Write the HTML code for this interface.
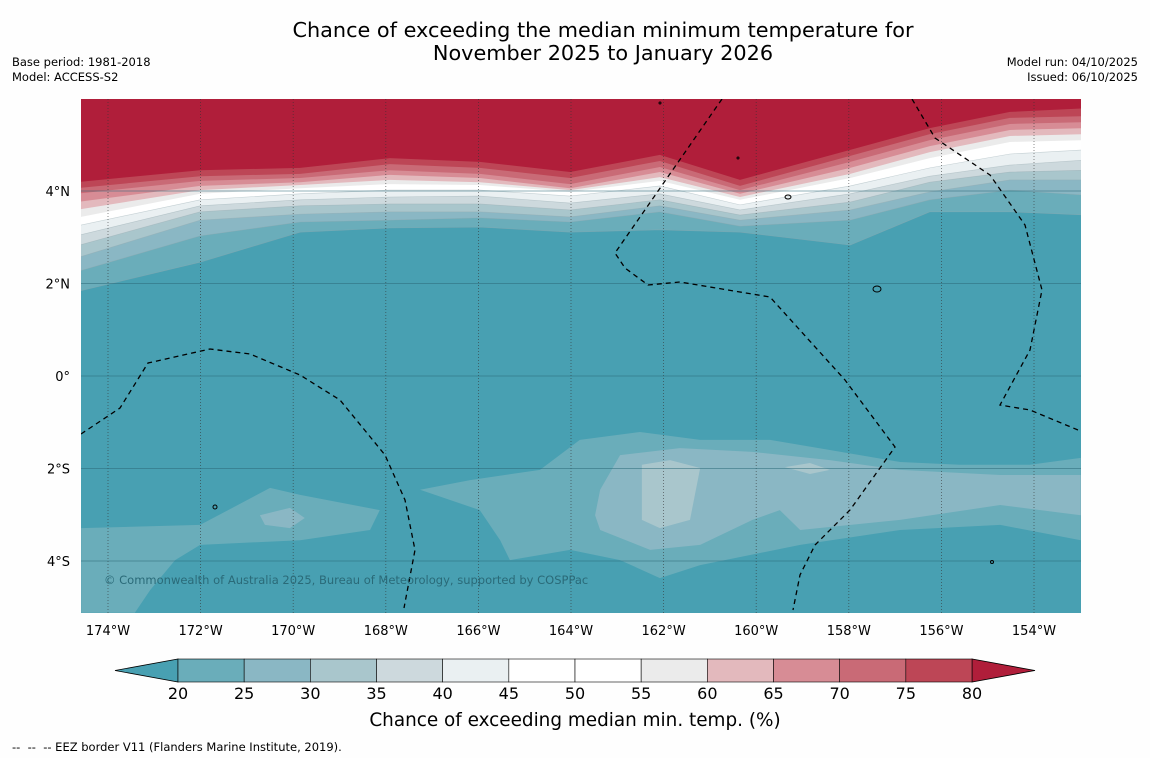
<!DOCTYPE html>
<html><head><meta charset="utf-8"><style>
body{margin:0;background:#fff;font-family:"DejaVu Sans",sans-serif;}
#wrap{position:relative;width:1150px;height:758px;overflow:hidden;background:#fefefe}
.t{position:absolute;white-space:nowrap;color:#000}
</style></head><body>
<div id="wrap">
<div class="t" style="left:0;width:1206px;text-align:center;top:19px;font-size:20.8px;line-height:23px">Chance of exceeding the median minimum temperature for<br>November 2025 to January 2026</div>
<div class="t" style="left:12px;top:55px;font-size:11.5px;line-height:15px">Base period: 1981-2018<br>Model: ACCESS-S2</div>
<div class="t" style="right:12px;top:55px;font-size:11.5px;line-height:15px;text-align:right">Model run: 04/10/2025<br>Issued: 06/10/2025</div>
<svg id="map" width="1150" height="758" style="position:absolute;left:0;top:0"></svg>
<div class="t" style="left:12px;top:740px;font-size:11.5px">--&nbsp; --&nbsp; -- EEZ border V11 (Flanders Marine Institute, 2019).</div>
</div>
<script>
const lons=[-174.58,-172.01,-169.85,-167.91,-165.97,-164.02,-162.08,-160.35,-157.97,-156.25,-154.52,-152.99];
const levels=[20,25,30,35,40,45,55,60,65,70,75,80];
const contourLats=[
[1.82,2.46,3.11,3.20,3.22,3.11,3.16,3.11,2.83,3.55,3.55,3.48],
[2.25,3.03,3.33,3.37,3.42,3.33,3.55,3.24,3.37,3.81,4.02,3.91],
[2.55,3.37,3.50,3.55,3.55,3.44,3.68,3.37,3.59,3.98,4.24,4.24],
[2.81,3.55,3.68,3.72,3.72,3.59,3.81,3.48,3.76,4.19,4.41,4.45],
[3.03,3.68,3.81,3.87,3.89,3.74,3.94,3.59,3.94,4.32,4.56,4.67],
[3.24,3.81,3.94,4.02,4.02,3.89,4.11,3.70,4.11,4.50,4.80,4.89],
[3.42,3.94,4.06,4.15,4.13,3.98,4.22,3.81,4.28,4.71,5.06,5.10],
[3.59,4.02,4.13,4.24,4.19,4.02,4.30,3.87,4.37,4.84,5.19,5.23],
[3.76,4.11,4.19,4.35,4.28,4.06,4.41,3.94,4.50,4.97,5.32,5.36],
[3.94,4.22,4.28,4.45,4.37,4.15,4.52,4.02,4.63,5.10,5.45,5.49],
[4.06,4.32,4.37,4.58,4.50,4.28,4.65,4.11,4.76,5.23,5.58,5.62],
[4.19,4.45,4.50,4.71,4.63,4.41,4.78,4.24,4.89,5.36,5.71,5.79]];
const bandColors=["#6aadba","#8ab7c4","#a9c6cc","#cdd9dd","#eaf0f2","#ffffff","#ebebeb","#e3b9bd","#d78c95","#c96a76","#bd4656","#b01e3a"];
const blob20Lon=[-167.26,-166.18,-164.67,-163.81,-162.51,-161.21,-159.70,-158.41,-156.89,-155.60,-154.09,-152.99,-152.99,-154.73,-156.89,-159.05,-161.21,-162.08,-162.94,-164.02,-165.32,-165.53,-165.97];
const blob20Lat=[-2.46,-2.25,-2.03,-1.38,-1.21,-1.38,-1.38,-1.60,-1.86,-1.92,-1.92,-1.77,-3.55,-3.22,-3.33,-3.65,-4.09,-4.37,-3.98,-3.76,-3.98,-3.55,-2.90];
const blob20bLon=[-174.58,-172.01,-170.50,-169.85,-168.13,-168.34,-169.85,-172.01,-172.55,-173.09,-173.42,-174.58];
const blob20bLat=[-3.29,-3.22,-2.42,-2.57,-2.90,-3.33,-3.55,-3.65,-3.98,-4.63,-5.12,-5.12];
const blob25Lon=[-163.37,-162.94,-161.65,-160.08,-158.41,-156.89,-154.73,-152.99,-152.99,-154.73,-156.89,-159.05,-159.49,-160.08,-161.21,-162.29,-163.37,-163.48];
const blob25Lat=[-2.46,-1.71,-1.56,-1.64,-1.82,-2.03,-2.14,-2.14,-3.01,-2.79,-3.11,-3.33,-2.90,-3.11,-3.65,-3.76,-3.33,-3.01];
const blob25bLon=[-170.72,-170.07,-169.75,-170.07,-170.61];
const blob25bLat=[-3.01,-2.85,-3.07,-3.29,-3.22];
const blob30Lon=[-162.47,-161.86,-161.21,-161.43,-162.08,-162.47];
const blob30Lat=[-1.92,-1.82,-1.99,-3.11,-3.29,-3.11];
const blob30bLon=[-159.38,-158.84,-158.41,-158.84];
const blob30bLat=[-1.97,-1.88,-2.03,-2.12];
const lonTicks=[-174,-172,-170,-168,-166,-164,-162,-160,-158,-156,-154];
const latTicks=[4,2,0,-2,-4];
const cbTicks=[20,25,30,35,40,45,50,55,60,65,70,75,80];
const cbColors=["#6aadba","#8ab7c4","#a9c6cc","#cdd9dd","#eaf0f2","#ffffff","#ffffff","#ebebeb","#e3b9bd","#d78c95","#c96a76","#bd4656"];

const NS="http://www.w3.org/2000/svg";
const FF='DejaVu Sans';
const svg=document.getElementById('map');
const X0=81,X1=1081,Y0=99,Y1=613;
const xs=lon=>108+(lon+174)*46.3;
const ys=lat=>376-lat*46.25;
function mk(tag,attrs,parent){const e=document.createElementNS(NS,tag);for(const k in attrs)e.setAttribute(k,attrs[k]);(parent||svg).appendChild(e);return e;}
const defs=mk('defs',{});
const cp=mk('clipPath',{id:'clip'},defs);mk('rect',{x:X0,y:Y0,width:X1-X0,height:Y1-Y0},cp);
const g=mk('g',{'clip-path':'url(#clip)'});
const bg=mk('rect',{x:X0,y:Y0,width:X1-X0,height:Y1-Y0,fill:'#48a0b2'},g);


contourLats.forEach((row,i)=>{
  let d='M'+(X0-5)+','+(Y0-5);
  row.forEach((lat,j)=>{d+=' L'+(j==0?X0-5:j==row.length-1?X1+5:xs(lons[j]))+','+ys(lat);});
  d+=' L'+(X1+5)+','+(Y0-5)+'Z';
  const p=mk('path',{d:d,fill:bandColors[i],stroke:i<6?'rgba(150,170,175,0.5)':'none','stroke-width':0.6},g);
  
  
});
function blob(lo,la,col,name){
  const pts=lo.map((v,i)=>xs(v)+','+ys(la[i])).join(' ');
  const p=mk('polygon',{points:pts,fill:col},g);
  
  
}
blob(blob20Lon,blob20Lat,'#6aadba','blob-20-25-east');
blob(blob20bLon,blob20bLat,'#6aadba','blob-20-25-west');
blob(blob25Lon,blob25Lat,'#8ab7c4','blob-25-30-east');
blob(blob25bLon,blob25bLat,'#8ab7c4','blob-25-30-west');
blob(blob30Lon,blob30Lat,'#a9c6cc','blob-30-35');
blob(blob30bLon,blob30bLat,'#a9c6cc','blob-30-35-small');
lonTicks.forEach(l=>{const x=xs(l);const ln=mk('line',{x1:x,x2:x,y1:Y0,y2:Y1,stroke:'#333','stroke-width':0.8,'stroke-dasharray':'1,2',opacity:0.7},g);
});
latTicks.forEach(l=>{const y=ys(l);const ln=mk('line',{x1:X0,x2:X1,y1:y,y2:y,stroke:'#2d6878','stroke-width':0.8,opacity:0.7},g);
});
['M81,434 L120,408 L148,363 L210,349 L250,354 L300,375 L340,400 L385,455 L405,500 L415,550 L404,608',
 'M722,99 L615,253 L625,268 L648,285 L680,282 L770,297 L845,380 L895,447 L850,510 L815,545 L800,575 L793,610',
 'M912,99 L935,138 L990,175 L1025,225 L1042,290 L1030,350 L1000,405 L1030,410 L1078,430'].forEach(d=>{
 const p=mk('path',{d:d,fill:'none',stroke:'#000','stroke-width':1.3,'stroke-dasharray':'5,4'},g);
 });
[[788,197,3,2],[877,289,4,3],[215,507,2,2],[992,562,1.5,1.5],[660,103,1,1],[738,158,1,1]].forEach(c=>{mk('ellipse',{cx:c[0],cy:c[1],rx:c[2],ry:c[3],fill:'none',stroke:'#000','stroke-width':1},g);});
const cr=mk('text',{x:104,y:584,'font-size':11.5,fill:'#2a6a78','font-family':FF},g);
cr.textContent='© Commonwealth of Australia 2025, Bureau of Meteorology, supported by COSPPac';

lonTicks.forEach(l=>{const t=mk('text',{x:xs(l),y:635,'font-size':13,'text-anchor':'middle','font-family':FF});t.textContent=Math.abs(l)+'°W';
});
latTicks.forEach(l=>{const t=mk('text',{x:70,y:ys(l)+5,'font-size':13,'text-anchor':'end','font-family':FF});t.textContent=l==0?'0°':Math.abs(l)+'°'+(l>0?'N':'S');
});
const cx=v=>178+(v-20)*(972-178)/60;const cy0=659,cy1=682;
const lt=mk('polygon',{points:'115,670.5 178,659 178,682',fill:'#48a0b2',stroke:'#000','stroke-width':0.8});

const rt=mk('polygon',{points:'1035,670.5 972,659 972,682',fill:'#b01e3a',stroke:'#000','stroke-width':0.8});

cbColors.forEach((c,i)=>{const r=mk('rect',{x:cx(cbTicks[i]),y:cy0,width:cx(cbTicks[i+1])-cx(cbTicks[i]),height:cy1-cy0,fill:c,stroke:'#000','stroke-width':0.6});
});
cbTicks.forEach(v=>{const t=mk('text',{x:cx(v),y:699,'font-size':16,'text-anchor':'middle','font-family':FF});t.textContent=v;
});
const cl=mk('text',{x:575,y:726,'font-size':18.4,'text-anchor':'middle','font-family':FF});
cl.textContent='Chance of exceeding median min. temp. (%)';

</script>
</body></html>
